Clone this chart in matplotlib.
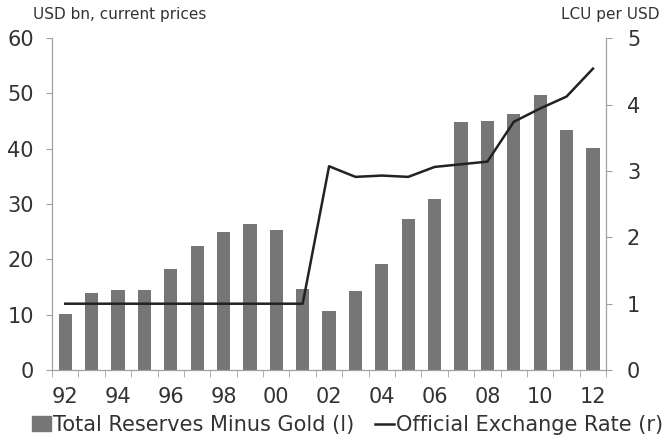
import matplotlib.pyplot as plt
import numpy as np
from matplotlib.patches import Patch
from matplotlib.lines import Line2D

years = ['92', '93', '94', '95', '96', '97', '98', '99', '00', '01', '02',
         '03', '04', '05', '06', '07', '08', '09', '10', '11', '12']
reserves = [10.1, 14.0, 14.5, 14.5, 18.3, 22.4, 24.9, 26.4, 25.3, 14.6, 10.7,
            14.3, 19.1, 27.3, 30.9, 44.8, 45.1, 46.3, 49.8, 43.4, 40.2]
exch_rate = [1.0, 1.0, 1.0, 1.0, 1.0, 1.0, 1.0, 1.0, 1.0, 1.0, 3.07,
             2.91, 2.93, 2.91, 3.06, 3.10, 3.14, 3.74, 3.94, 4.12, 4.54]

x = np.arange(len(years))
axcol = '#a0a0a0'
txtcol = '#333333'
barcol = '#767676'
linecol = '#222222'

fig = plt.figure(figsize=(6.72, 4.38), dpi=100)
ax = fig.add_axes([0.0774, 0.155, 0.8246, 0.758])
ax.bar(x, reserves, width=0.5, color=barcol)
ax.set_ylim(0, 60)
ax.set_xlim(-0.5, len(years) - 0.5)
ax.set_yticks(range(0, 61, 10))

ax2 = ax.twinx()
ax2.plot(x, exch_rate, color=linecol, lw=1.8)
ax2.set_ylim(0, 5)
ax2.set_yticks(range(0, 6))

ax.set_xticks(x[::2])
ax.set_xticklabels(years[::2])
ax.set_xticks(np.arange(-0.5, len(years)), minor=True)
ax.tick_params(axis='x', which='major', length=0, pad=12, labelsize=15, labelcolor=txtcol)
ax.tick_params(axis='x', which='minor', length=5, color=axcol)
ax.tick_params(axis='y', length=4, color=axcol, labelsize=15, labelcolor=txtcol, pad=9)
ax2.tick_params(axis='y', length=4, color=axcol, labelsize=15, labelcolor=txtcol, pad=11)

for a in (ax, ax2):
    a.spines['top'].set_visible(False)
    for s in ('left', 'right', 'bottom'):
        a.spines[s].set_color(axcol)

fig.text(0.049, 0.966, 'USD bn, current prices', fontsize=11, color=txtcol, va='center')
fig.text(0.982, 0.966, 'LCU per USD', fontsize=11, color=txtcol, ha='right', va='center')

handles = [Patch(color=barcol), Line2D([], [], color=linecol, lw=1.8)]
fig.legend(handles, ['Total Reserves Minus Gold (l)', 'Official Exchange Rate (r)'],
           loc='center', bbox_to_anchor=(0.517, 0.03), ncol=2, frameon=False,
           fontsize=15, handlelength=0.9, handletextpad=0.1, columnspacing=1.0,
           labelcolor=txtcol, borderpad=0, borderaxespad=0)

fig.savefig('out.png')
